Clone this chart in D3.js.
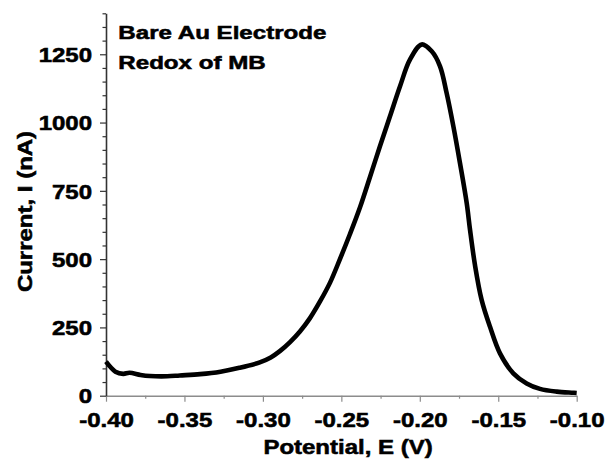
<!DOCTYPE html>
<html>
<head>
<meta charset="utf-8">
<script src="https://cdn.jsdelivr.net/npm/d3@7"></script>
<style>
  html, body { margin: 0; padding: 0; background: #fff; }
  svg { display: block; }
  text { font-family: "Liberation Sans", Arial, sans-serif; font-weight: bold; fill: #000;
         stroke: #000; stroke-width: 0.55px; }
</style>
</head>
<body>
<svg id="chart" width="608" height="462"></svg>
<script>
// Differential pulse voltammogram of methylene blue on a bare gold electrode
const potential = [
  -0.400, -0.397, -0.394, -0.389, -0.385, -0.378, -0.372, -0.361, -0.353, -0.340,
  -0.327, -0.315, -0.302, -0.295, -0.289, -0.2827, -0.2764, -0.270, -0.2636, -0.2572,
  -0.2509, -0.2445, -0.2381, -0.2318, -0.2254, -0.219, -0.2126, -0.2062, -0.1988, -0.1924,
  -0.1871, -0.1829, -0.1786, -0.1744, -0.1701, -0.168, -0.1648, -0.1606, -0.1553, -0.1489,
  -0.1404, -0.1319, -0.1234, -0.1127, -0.1022, -0.100
];
const current = [
  125, 104, 88, 80, 84, 76, 72, 71, 74, 79,
  88, 102, 122, 140, 164, 196, 235, 284, 345, 414,
  500, 592, 690, 800, 913, 1023, 1133, 1231, 1286, 1261,
  1206, 1108, 986, 852, 705, 608, 477, 351, 253, 155,
  82, 45, 25, 15, 11, 10
];

const xTicks = [-0.40, -0.35, -0.30, -0.25, -0.20, -0.15, -0.10];
const xTickLabels = ["-0.40", "-0.35", "-0.30", "-0.25", "-0.20", "-0.15", "-0.10"];
const yTicks = [0, 250, 500, 750, 1000, 1250];
const yTickLabels = ["0", "250", "500", "750", "1000", "1250"];
const annotation = ["Bare Au Electrode", "Redox of MB"];
const xTitle = "Potential, E (V)";
const yTitle = "Current, I (nA)";

const svg = d3.select("#chart");
const stretch = 1.2;

const x = d3.scaleLinear().domain([-0.40, -0.10]).range([106, 576.7]);
const y = d3.scaleLinear().domain([0, 1400]).range([395.7, 13.3]);

// minor ticks (no labels)
svg.append("g")
  .attr("transform", `translate(0,${y(0)})`)
  .call(d3.axisBottom(x).tickValues(d3.range(-0.375, -0.1, 0.05)).tickSize(3).tickFormat(""))
  .call(g => g.select(".domain").remove())
  .call(g => g.selectAll("line").attr("stroke", "#8c8c8c").attr("stroke-width", 1.2));

svg.append("g")
  .attr("transform", `translate(${x(-0.40)},0)`)
  .call(d3.axisLeft(y).tickValues(d3.range(50, 1401, 50).filter(v => v % 250 !== 0)).tickSize(3.5).tickFormat(""))
  .call(g => g.select(".domain").remove())
  .call(g => g.selectAll("line").attr("stroke", "#333").attr("stroke-width", 1.2));

// bottom axis
const gx = svg.append("g")
  .attr("transform", `translate(0,${y(0)})`)
  .call(d3.axisBottom(x).tickValues(xTicks).tickSize(6).tickSizeOuter(0)
    .tickFormat((d, i) => xTickLabels[i]));
gx.select(".domain").attr("stroke", "#8c8c8c").attr("stroke-width", 1.6);
gx.selectAll(".tick line").attr("stroke", "#8c8c8c").attr("stroke-width", 1.2);
gx.selectAll(".tick text")
  .attr("font-size", 20).attr("font-family", null)
  .attr("y", 0).attr("dy", null)
  .attr("transform", `translate(0,31.5) scale(${stretch},1)`);

// left axis
const gy = svg.append("g")
  .attr("transform", `translate(${x(-0.40)},0)`)
  .call(d3.axisLeft(y).tickValues(yTicks).tickSize(6).tickSizeOuter(0)
    .tickFormat((d, i) => yTickLabels[i]));
gy.select(".domain").attr("stroke", "#333").attr("stroke-width", 1.6);
gy.selectAll(".tick line").attr("stroke", "#333").attr("stroke-width", 1.2);
gy.selectAll(".tick text")
  .attr("font-size", 20).attr("font-family", null)
  .attr("x", 0).attr("dy", null)
  .attr("transform", `translate(-14,7.2) scale(${stretch},1)`);

// the voltammogram trace
const pts = potential.map((e, i) => [e, current[i]]);
svg.append("path")
  .datum(pts)
  .attr("fill", "none")
  .attr("stroke", "#000")
  .attr("stroke-width", 4.6)
  .attr("stroke-linejoin", "round")
  .attr("d", d3.line().x(d => x(d[0])).y(d => y(d[1])).curve(d3.curveCatmullRom.alpha(0.5)));

// axis titles
svg.append("text")
  .attr("transform", `translate(348,453.5) scale(${stretch},1)`)
  .attr("text-anchor", "middle")
  .attr("font-size", 20)
  .text(xTitle);

svg.append("text")
  .attr("transform", `translate(31.5,211.5) rotate(-90) scale(${stretch},1)`)
  .attr("text-anchor", "middle")
  .attr("font-size", 20)
  .text(yTitle);

// annotation lines
svg.selectAll("text.note")
  .data(annotation)
  .join("text")
  .attr("class", "note")
  .attr("transform", (d, i) => `translate(118.3,${39.3 + i * 30}) scale(1.27,1)`)
  .attr("font-size", 19)
  .text(d => d);
</script>
</body>
</html>
